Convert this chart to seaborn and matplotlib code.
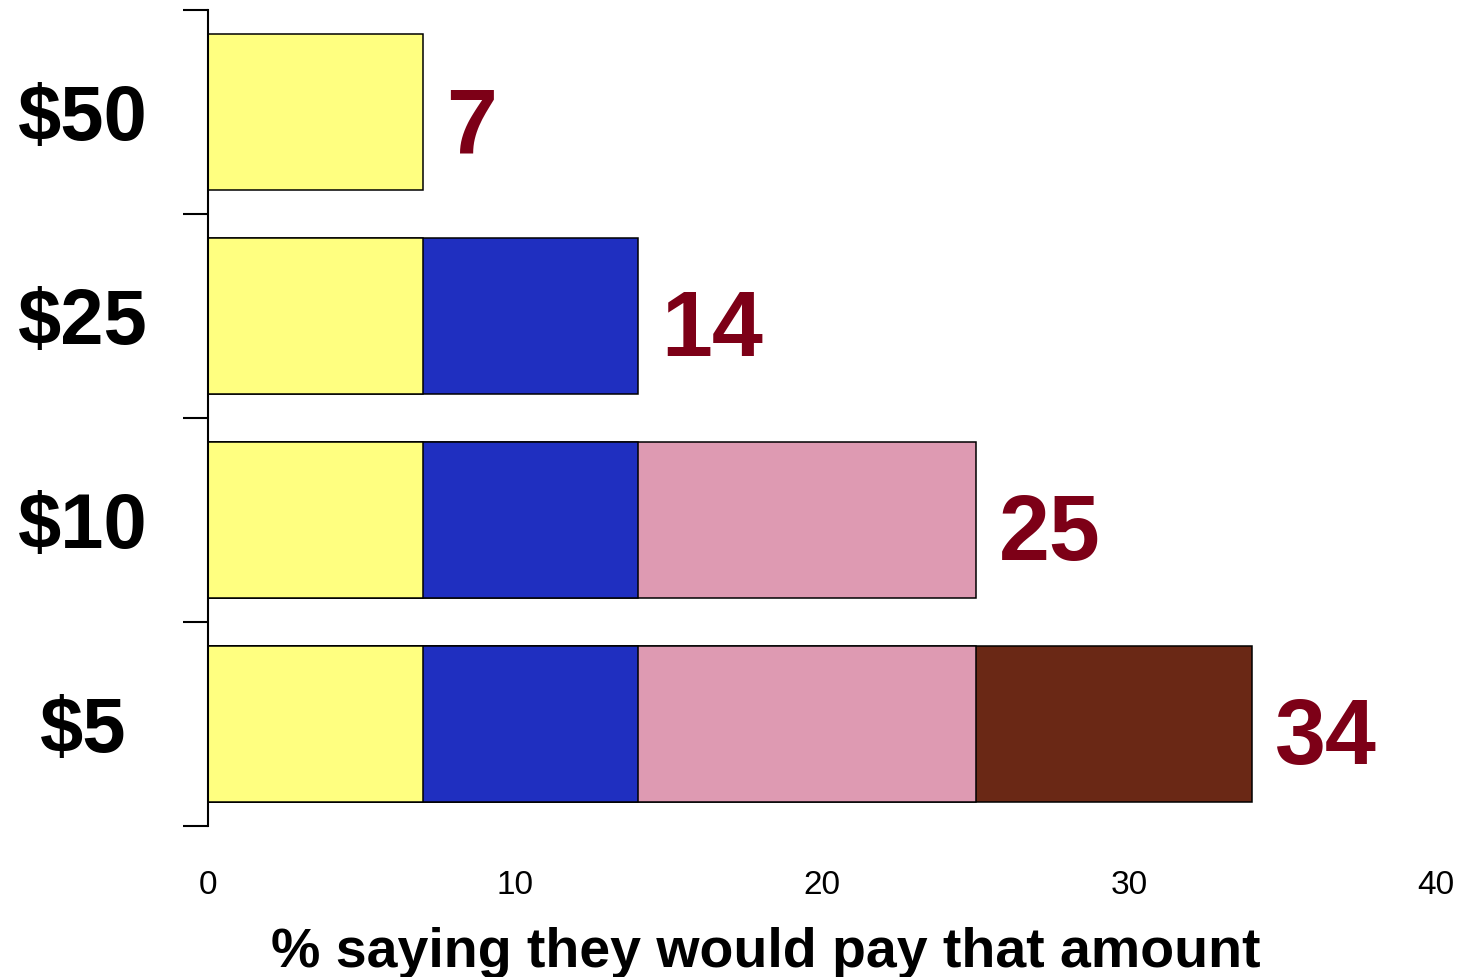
import matplotlib
matplotlib.use("Agg")
import matplotlib.pyplot as plt
import pandas as pd
import seaborn as sns

# Price points (top to bottom) and share of respondents willing to pay at least that much
amounts = ["$50", "$25", "$10", "$5"]
pct_willing = [7, 14, 25, 34]
layer_colors = ["#FFFF80", "#1F2FC0", "#DE9AB2", "#6A2815"]
x_ticks = [0, 10, 20, 30, 40]

sns.set_theme(style="white")
plt.rcParams["font.family"] = ["Liberation Sans", "DejaVu Sans"]
plt.rcParams.update({"text.color": "black", "axes.labelcolor": "black",
                     "xtick.color": "black", "ytick.color": "black"})

fig = plt.figure(figsize=(14.65, 9.77), dpi=100)
ax = fig.add_axes([208 / 1465, 1 - 826 / 977, 1228 / 1465, 816 / 977])

# Each layer k spans from 0 to pct_willing[k] on every price at or below amounts[k];
# drawing widest first lets the shorter layers sit on top, giving the stacked look.
rows = []
for k, val in enumerate(pct_willing):
    for i, amt in enumerate(amounts):
        if i >= k:
            rows.append({"amount": amt, "layer": k, "value": val})
df = pd.DataFrame(rows)

for k in reversed(range(len(pct_willing))):
    sub = df[df["layer"] == k]
    sns.barplot(data=sub, x="value", y="amount", order=amounts, orient="h",
                color=layer_colors[k], saturation=1, width=0.76,
                edgecolor="black", linewidth=1.1, ax=ax, errorbar=None)

# Total labels at the end of each bar
for i, val in enumerate(pct_willing):
    ax.text(val + 0.75, i + 0.08, str(val), ha="left", va="center",
            fontsize=66, fontweight="bold", color="#7D0017")

ax.set_xlim(0, 40)
ax.set_ylim(3.5, -0.5)
ax.set_xticks(x_ticks)
ax.set_xticklabels([str(t) for t in x_ticks], fontsize=24)
ax.tick_params(axis="x", length=0, pad=32)

ax.set_yticks(range(len(amounts)))
ax.set_yticklabels(amounts, fontsize=56, fontweight="bold")
ax.set_yticks([b - 0.5 for b in range(len(amounts) + 1)], minor=True)
ax.tick_params(axis="y", which="major", length=0, pad=90)
ax.tick_params(axis="y", which="minor", left=True, length=18, width=1.5,
               color="black", direction="out")
for lbl in ax.get_yticklabels():
    lbl.set_ha("center")

ax.set_ylabel("")
ax.set_xlabel("% saying they would pay that amount", fontsize=40,
              fontweight="bold", va="baseline")
ax.xaxis.set_label_coords(0.454, -0.1728)

for side in ["top", "right", "bottom"]:
    ax.spines[side].set_visible(False)
ax.spines["left"].set_color("black")
ax.spines["left"].set_linewidth(1.5)

fig.savefig("out.png", dpi=100)
